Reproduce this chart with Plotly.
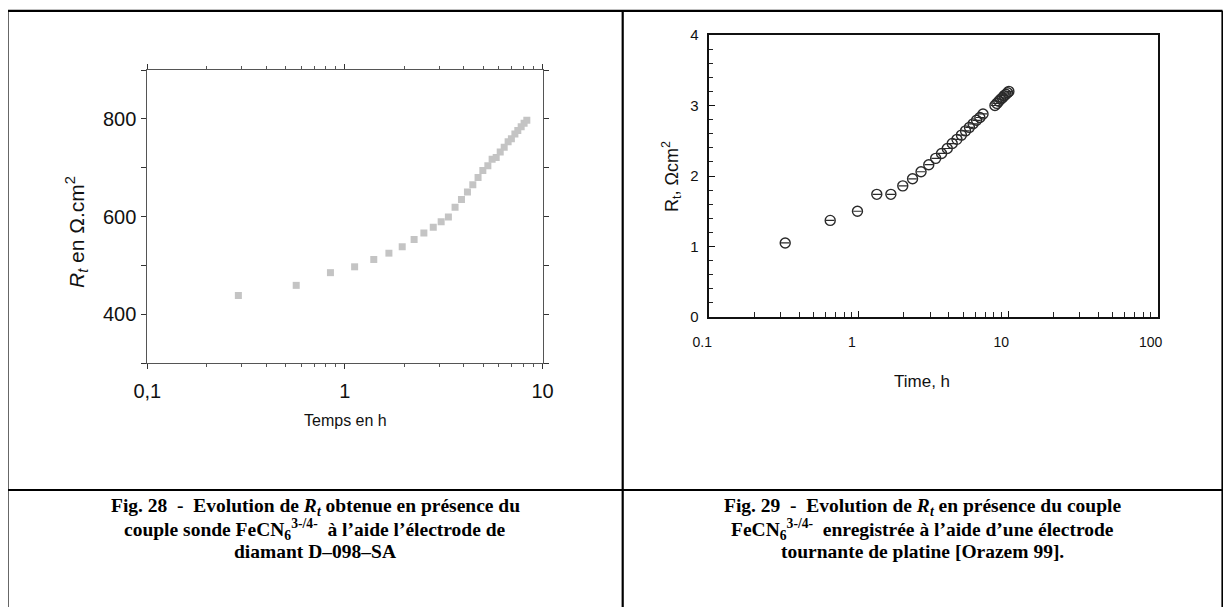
import plotly.graph_objects as go

W, H = 1231, 607
OFF_X, OFF_Y = 8, 8   # page body margin: figure starts at (8, 8) in the window

# ---------------- data ----------------
# Fig. 28 : diamond electrode D-098-SA
t28 = [0.289, 0.567, 0.845, 1.12, 1.40, 1.67, 1.95, 2.24, 2.51, 2.80,
       3.07, 3.34, 3.61, 3.89, 4.17, 4.44, 4.72, 4.99, 5.29, 5.56,
       5.83, 6.11, 6.40, 6.70, 6.96, 7.25, 7.50, 7.80, 8.07, 8.33]
rt28 = [438, 459, 485, 497, 512, 525, 538, 553, 566, 578,
        589, 599, 619, 635, 650, 665, 680, 694, 704, 717,
        721, 732, 742, 753, 759, 769, 776, 784, 791, 797]

# Fig. 29 : rotating platinum electrode [Orazem 99]
t29 = [0.322, 0.644, 0.98, 1.32, 1.64, 1.97, 2.29, 2.61, 2.94, 3.27,
       3.58, 3.91, 4.22, 4.54, 4.86, 5.18, 5.50, 5.82, 6.14, 6.46,
       6.78, 8.15, 8.40, 8.65, 8.90, 9.15, 9.40, 9.65, 9.90, 10.1]
rt29 = [1.05, 1.37, 1.50, 1.74, 1.74, 1.86, 1.96, 2.06, 2.16, 2.25,
        2.32, 2.39, 2.46, 2.52, 2.58, 2.64, 2.69, 2.74, 2.79, 2.83,
        2.88, 3.00, 3.03, 3.06, 3.09, 3.11, 3.14, 3.16, 3.18, 3.20]

x28_tickvals = [0.1, 1, 10]
x28_ticktext = ["0,1", "1", "10"]
y28_tickvals = [300, 400, 500, 600, 700, 800, 900]
y28_ticktext = ["", "400", "", "600", "", "800", ""]

x29_tickvals = [0.1, 1, 10, 100]
x29_ticktext = ["0.1", "1", "10", "100"]
y29_tickvals = [0, 1, 2, 3, 4]
y29_ticktext = ["0", "1", "2", "3", "4"]

minor_log_28 = [0.2, 0.3, 0.4, 0.5, 0.6, 0.7, 0.8, 0.9, 2, 3, 4, 5, 6, 7, 8, 9]
minor_log_29 = minor_log_28 + [20, 30, 40, 50, 60, 70, 80, 90]


def px(x):
    return (x - OFF_X) / W


def py(y):
    return 1 - (y - OFF_Y) / H


fig = go.Figure()

fig.add_trace(go.Scatter(
    x=t28, y=rt28, mode="markers", xaxis="x", yaxis="y",
    marker=dict(symbol="square", size=7, color="#c4c4c4"),
    showlegend=False, hoverinfo="skip"))

fig.add_trace(go.Scatter(
    x=t29, y=rt29, mode="markers", xaxis="x2", yaxis="y2",
    marker=dict(symbol="circle-open", size=10, color="#2a2a2a",
                line=dict(width=1.4, color="#2a2a2a")),
    showlegend=False, hoverinfo="skip"))
fig.add_trace(go.Scatter(
    x=t29, y=rt29, mode="markers", xaxis="x2", yaxis="y2",
    marker=dict(symbol="line-ew-open", size=6, color="#2a2a2a",
                line=dict(width=1.2, color="#2a2a2a")),
    showlegend=False, hoverinfo="skip"))

font_ar = "Arial, Liberation Sans, sans-serif"

fig.update_layout(
    width=W, height=H,
    margin=dict(l=0, r=0, t=0, b=0, pad=0, autoexpand=False),
    paper_bgcolor="white", plot_bgcolor="rgba(0,0,0,0)",
    showlegend=False,
    xaxis=dict(
        type="log", range=[-1, 1], domain=[px(147.3), px(542.5)], anchor="y",
        tickvals=x28_tickvals, ticktext=x28_ticktext,
        ticks="outside", ticklen=5, tickwidth=1, tickcolor="#333",
        minor=dict(tickvals=minor_log_28, ticks="outside", ticklen=3,
                   tickwidth=1, tickcolor="#555", showgrid=False),
        showline=True, linecolor="#555", linewidth=1, mirror="ticks",
        showgrid=False, zeroline=False, automargin=False,
        tickfont=dict(family=font_ar, size=20, color="#111"),
        ticklabelstandoff=5),
    yaxis=dict(
        range=[300, 900], domain=[py(363), py(70)], anchor="x",
        tickvals=y28_tickvals, ticktext=y28_ticktext,
        ticks="outside", ticklen=5, tickwidth=1, tickcolor="#333",
        showline=True, linecolor="#555", linewidth=1, mirror="ticks",
        showgrid=False, zeroline=False, automargin=False,
        tickfont=dict(family=font_ar, size=20, color="#111"),
        ticklabelstandoff=1),
    xaxis2=dict(
        type="log", range=[-1, 2], domain=[px(709.3), px(1157.7)], anchor="y2",
        tickvals=x29_tickvals, ticktext=x29_ticktext,
        ticks="inside", ticklen=6, tickwidth=1.3, tickcolor="#111",
        minor=dict(tickvals=minor_log_29, ticks="inside", ticklen=5,
                   tickwidth=1.2, tickcolor="#222", showgrid=False),
        showline=True, linecolor="#111", linewidth=1.6, mirror=True,
        showgrid=False, zeroline=False, automargin=False,
        tickfont=dict(family=font_ar, size=14, color="#111"),
        ticklabelstandoff=11, ticklabelshift=-7),
    yaxis2=dict(
        range=[0, 4], domain=[py(317), py(35)], anchor="x2",
        tickvals=y29_tickvals, ticktext=y29_ticktext,
        ticks="inside", ticklen=6, tickwidth=1.3, tickcolor="#111",
        minor=dict(dtick=0.2, ticks="inside", ticklen=4, tickwidth=1.2,
                   tickcolor="#222", showgrid=False),
        showline=True, linecolor="#111", linewidth=1.6, mirror=True,
        showgrid=False, zeroline=False, automargin=False,
        tickfont=dict(family=font_ar, size=15, color="#111"),
        ticklabelstandoff=6),
)

# ---- table frame ----
LW = 2.2
x_l, x_m, x_r = 7.5, 622.7, 1222.5
y_t, y_mid, y_b = 10.8, 490, 607
lines = [
    (x_l, y_t, x_r, y_t),
    (x_l, y_mid, x_r, y_mid),
    (x_l, y_t, x_l, y_b),
    (x_m, y_t, x_m, y_b),
    (x_r, y_t, x_r, y_b),
]
for (a, b, c, d) in lines:
    fig.add_shape(type="line", xref="paper", yref="paper",
                  x0=px(a), y0=py(b), x1=px(c), y1=py(d),
                  line=dict(color="black", width=LW), layer="above")

ann = []
# axis titles
ann.append(dict(text="<i>R<sub>t</sub></i> en Ω.cm<sup>2</sup>", x=px(76), y=py(232),
                textangle=-90, font=dict(family=font_ar, size=21, color="#111")))
ann.append(dict(text="Temps en h", x=px(345), y=py(420),
                font=dict(family=font_ar, size=16, color="#111")))
ann.append(dict(text="R<sub>t</sub>, Ωcm<sup>2</sup>", x=px(671), y=py(177),
                textangle=-90, font=dict(family=font_ar, size=18, color="#111")))
ann.append(dict(text="Time, h", x=px(922), y=py(381),
                font=dict(family=font_ar, size=17, color="#111")))

cap_font = dict(family="Liberation Serif, Times New Roman, serif", size=19.5, color="black")
cap_left = [
    "<b>Fig. 28  -  Evolution de <i>R<sub>t</sub></i> obtenue en présence du</b>",
    "<b>couple sonde FeCN<sub>6</sub><sup>3-/4-</sup>  à l’aide l’électrode de</b>",
    "<b>diamant D–098–SA</b>",
]
cap_right = [
    "<b>Fig. 29  -  Evolution de <i>R<sub>t</sub></i> en présence du couple</b>",
    "<b>FeCN<sub>6</sub><sup>3-/4-</sup>  enregistrée à l’aide d’une électrode</b>",
    "<b>tournante de platine [Orazem 99].</b>",
]
for i, (tl, tr) in enumerate(zip(cap_left, cap_right)):
    yy = 507 + 22 * i
    ann.append(dict(text=tl, x=px(315), y=py(yy), font=cap_font))
    ann.append(dict(text=tr, x=px(922), y=py(yy), font=cap_font))

for a in ann:
    a.update(xref="paper", yref="paper", showarrow=False,
             xanchor="center", yanchor="middle")
    fig.add_annotation(**a)

fig.write_html("out.html")
